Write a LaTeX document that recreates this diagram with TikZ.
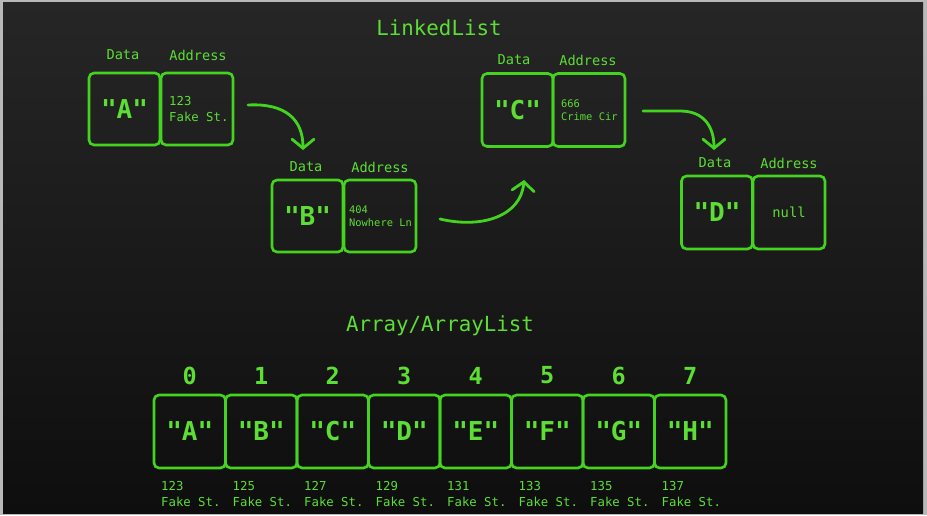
\documentclass[tikz,border=0pt]{standalone}
\usepackage{fontspec}
\newfontfamily\mono{DejaVu Sans Mono}
\usetikzlibrary{arrows.meta}
\definecolor{boxg}{RGB}{68,212,32}
\definecolor{txtg}{RGB}{92,222,52}
\definecolor{bgtop}{RGB}{38,38,38}
\definecolor{bgbot}{RGB}{14,14,14}
\definecolor{framec}{RGB}{185,185,185}
\newcommand\fsz[2]{\fontsize{#1pt}{#2pt}\selectfont}
\tikzset{
  cell/.style={draw=boxg, line width=2.6pt, rounded corners=5pt, minimum width=71pt,
    minimum height=72pt, inner sep=0pt, text=txtg, font=\mono\bfseries\fsz{26}{30}},
  lbl/.style={text=txtg, font=\mono\fsz{13.6}{16}, inner sep=0pt},
  addrtxt/.style={text=txtg, align=left, inner sep=0pt, anchor=west, font=\mono\fsz{12.3}{16}},
  addrsmall/.style={text=txtg, align=left, inner sep=0pt, anchor=west, font=\mono\fsz{10.4}{13}},
  idx/.style={text=txtg, inner sep=0pt, font=\mono\bfseries\fsz{23.5}{26}},
  heading/.style={text=txtg, inner sep=0pt, font=\mono\fsz{20.8}{24}},
  link/.style={draw=boxg, line width=2.8pt, line cap=round, line join=round,
    -{Straight Barb[length=9pt,width=22pt,line cap=round]}}
}
\begin{document}
\begin{tikzpicture}[x=1pt,y=-1pt]
\useasboundingbox (0,0) rectangle (927,515);
\fill[framec] (0,0) rectangle (927,515);
\shade[top color=bgtop,bottom color=bgbot] (3,2) rectangle (923,513);

% titles
\node[heading] (t1) at (439,28) {LinkedList};
\node[heading] (t2) at (440,326) {Array/ArrayList};

% linked list node A
\node[cell] (Ad) at (124.5,109) {"A"};
\node[cell, minimum width=72pt] (Aa) at (197,109) {};
\node[addrtxt] (At) at (169,109) {123\\Fake St.};
\node[lbl] (Al1) at (123,55) {Data};
\node[lbl] (Al2) at (198,55) {Address};

% node B
\node[cell] (Bd) at (307.5,216) {"B"};
\node[cell, minimum width=72pt] (Ba) at (380,216) {};
\node[addrsmall] (Bt) at (349,216) {404\\Nowhere Ln};
\node[lbl] (Bl1) at (306,167) {Data};
\node[lbl] (Bl2) at (380,167) {Address};

% node C
\node[cell, minimum height=73pt] (Cd) at (517.5,110) {"C"};
\node[cell, minimum width=72pt, minimum height=73pt] (Ca) at (589,110) {};
\node[addrsmall] (Ct) at (561,110) {666\\Crime Cir};
\node[lbl] (Cl1) at (514,60) {Data};
\node[lbl] (Cl2) at (588,60) {Address};

% node D
\node[cell, minimum height=73pt] (Dd) at (717,212.5) {"D"};
\node[cell, minimum width=72pt, minimum height=73pt] (Da) at (789,212.5) {};
\node[text=txtg, inner sep=0pt, font=\mono\fsz{13.8}{16}] (Dt) at (Da.center) {null};
\node[lbl] (Dl1) at (715,163) {Data};
\node[lbl] (Dl2) at (789,163) {Address};

% connectors
\coordinate (a1s) at (248,105);
\coordinate (a1e) at (303,150);
\draw[link] (a1s) .. controls (286,103) and (303,120) .. (a1e);
\coordinate (a2s) at (440,219);
\coordinate (a2e) at (524,180);
\draw[link] (a2s) .. controls (482,229) and (521,216) .. (a2e);
\coordinate (a3s) at (643,111);
\coordinate (a3m) at (680,111);
\coordinate (a3e) at (714,150);
\draw[link] (a3s) -- (a3m) .. controls (705,111) and (714,128) .. (a3e);

% array
\foreach \i/\L/\n in {0/A/123,1/B/125,2/C/127,3/D/129,4/E/131,5/F/133,6/G/135,7/H/137}{
  \node[cell, minimum width=71.5pt, minimum height=73pt] (c\i) at ({189.75+71.5*\i},431.5) {"\L"};
  \node[idx] (i\i) at ({189.75+71.5*\i},375.5) {\i};
  \node[addrtxt] (ad\i) at ({161+71.5*\i},494) {\n\\Fake St.};
}
\end{tikzpicture}
\end{document}
